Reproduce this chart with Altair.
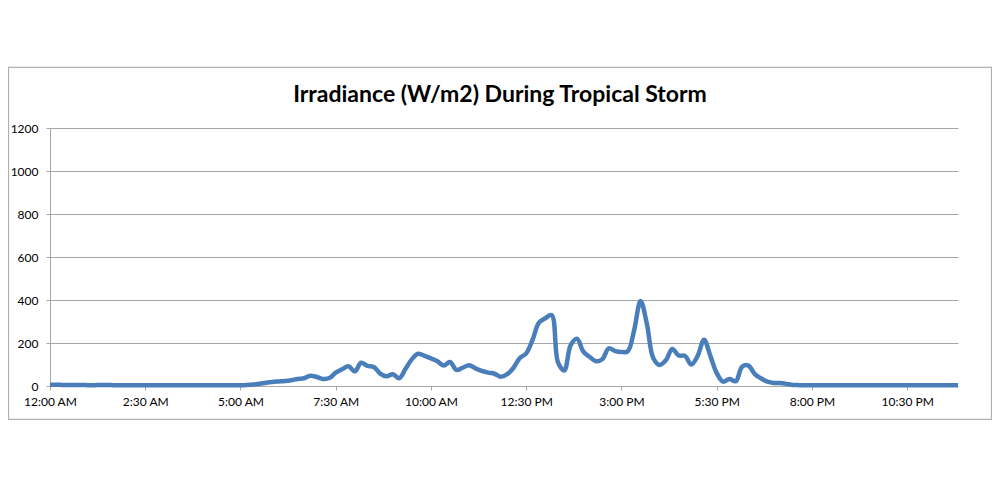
import json
import altair as alt
import pandas as pd

# 10-minute readings, 00:00 .. 23:50 (144 values), W/m2
irradiance = [
    6, 6, 5, 5, 5, 5, 4, 4, 5, 5,
    4, 4, 4, 4, 4, 4, 4, 4, 4, 4,
    4, 4, 4, 4, 4, 4, 4, 4, 4, 4,
    4, 5, 7, 10, 15, 19, 21, 23, 27, 33,
    36, 48, 42, 33, 37, 62, 78, 92, 68, 108,
    94, 88, 58, 45, 55, 36, 80, 125, 150, 140,
    128, 115, 95, 112, 75, 85, 97, 82, 70, 62,
    57, 43, 55, 85, 130, 152, 215, 295, 315, 330,
    110, 72, 190, 220, 160, 135, 115, 125, 175, 162,
    158, 162, 260, 395, 290, 130, 98, 120, 172, 142,
    140, 100, 140, 215, 140, 60, 20, 32, 22, 90,
    95, 55, 35, 20, 14, 14, 10, 5, 4, 4,
    4, 4, 4, 4, 4, 4, 4, 4, 4, 4,
    4, 4, 4, 4, 4, 4, 4, 4, 4, 4,
    4, 4, 4, 4,
]
tick_labels = ["12:00 AM", "2:30 AM", "5:00 AM", "7:30 AM", "10:00 AM",
               "12:30 PM", "3:00 PM", "5:30 PM", "8:00 PM", "10:30 PM"]
tick_step = 15
y_ticks = [0, 200, 400, 600, 800, 1000, 1200]

df = pd.DataFrame({"i": list(range(len(irradiance))), "v": irradiance})

FONT = "Lato"
grid_col = "#a6a6a6"

label_expr = json.dumps(tick_labels) + "[round(datum.value / %d)]" % tick_step

line = alt.Chart(df).mark_line(
    color="#4a7ebb", strokeWidth=4.5, interpolate="catmull-rom"
).encode(
    x=alt.X("i:Q", scale=alt.Scale(domain=[0, len(irradiance) - 1], nice=False, zero=False),
            axis=alt.Axis(values=[k * tick_step for k in range(len(tick_labels))],
                          labelExpr=label_expr, title=None, grid=False,
                          domainColor=grid_col, tickColor=grid_col, tickSize=4,
                          labelFont=FONT, labelFontSize=12, labelColor="#000000",
                          labelPadding=6, labelFlush=False)),
    y=alt.Y("v:Q", scale=alt.Scale(domain=[0, 1200], nice=False),
            axis=alt.Axis(values=y_ticks, format="d", title=None, grid=True, gridColor=grid_col,
                          domainColor=grid_col, tickColor=grid_col, tickSize=4,
                          labelFont=FONT, labelFontSize=12, labelColor="#000000",
                          labelPadding=8)),
)

frame = alt.Chart(pd.DataFrame({"k": [0]})).mark_rect(
    fill=None, stroke="#b0b0b0", strokeWidth=1.2
).encode(
    x=alt.value(-41.5), x2=alt.value(941.5), y=alt.value(-60.7), y2=alt.value(291.3)
)

chart = alt.layer(frame, line).properties(
    width=908, height=258,
    autosize=alt.AutoSizeParams(type="none"),
    padding={"left": 42, "top": 120, "right": 34, "bottom": 83},
    title=alt.Title("Irradiance (W/m2) During Tropical Storm", font=FONT, fontSize=23,
                    fontWeight="bold", color="#000000", frame="group", anchor="middle",
                    offset=-40, dx=-4),
).configure_view(stroke=None)

chart.save("out.html", embed_options={"renderer": "svg", "actions": False})
